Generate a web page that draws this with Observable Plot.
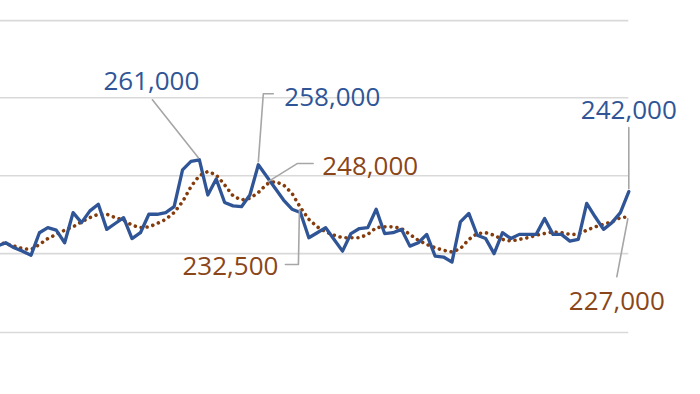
<!DOCTYPE html>
<html>
<head>
<meta charset="utf-8">
<script src="https://cdn.jsdelivr.net/npm/d3@7"></script>
<script src="https://cdn.jsdelivr.net/npm/@observablehq/plot@0.6"></script>
<style>
  html, body { margin: 0; padding: 0; background: #fff; overflow: hidden; }
</style>
</head>
<body>
<div id="chart"></div>
<script>
// Actual values (blue) and moving trend (brown), one per period
const actual = [209500, 211500, 208500, 206500, 204000, 217500, 220500, 219000, 211500, 229500,
  223500, 230500, 234500, 219500, 223000, 226500, 214000, 217500, 228500, 228500,
  229500, 233000, 255000, 260000, 261000, 240000, 249500, 235500, 233500, 233000,
  240000, 258000, 251000, 244000, 237000, 231500, 229500, 214500, 217500, 220500,
  213500, 206500, 217000, 220000, 220500, 231500, 217000, 217500, 219500, 209500,
  211500, 216500, 203500, 203000, 200000, 224000, 229000, 216000, 214000, 205000,
  217500, 214000, 216500, 216500, 216500, 226000, 216500, 216500, 212500, 213500,
  235000, 227000, 219500, 223500, 229500, 242000];
const trend = [211500, 211000, 209500, 208000, 207500, 210500, 214000, 216500, 219000, 221000,
  224000, 226500, 228500, 228500, 226500, 225000, 222000, 220500, 221000, 223000,
  225500, 229500, 236000, 245000, 251500, 254000, 252000, 246000, 239500, 237000,
  238000, 241500, 246500, 248000, 246000, 241000, 232500, 225500, 221000, 218000,
  216000, 214500, 214500, 214500, 216500, 220500, 221000, 221000, 220000, 216500,
  213000, 210500, 208500, 207000, 206000, 208000, 213500, 217000, 217500, 216000,
  213500, 212500, 213500, 214500, 216000, 217000, 218000, 217500, 216500, 216500,
  219000, 221000, 222500, 224000, 226500, 227000];
const gridValues = [158000, 205000, 251500, 298000, 344000];

// Annotation labels: which series, which period, text
const labelSeries = ["actual", "actual", "trend", "actual", "trend", "trend"];
const labelIndex = [24, 31, 33, 75, 36, 75];
const labelText = ["261,000", "258,000", "248,000", "242,000", "232,500", "227,000"];

// Layout (pixel offsets from the labelled point)
const labelOffset = [[-48, -78], [74, -67], [95, -15], [0, -81], [-70, 59], [-12, 85]];
const leaderOffsets = [
  [[-47, -60], [-1, -2]],
  [[15, -71], [5, -71], [0, -3]],
  [[38, -18], [22, -18], [-7, 0]],
  [[0, -64], [0, -3]],
  [[-15, 57], [-2, 57], [-1, 2]],
  [[-12, 60], [-1, 2]]
];

const BLUE = "#2F5597";
const BROWN = "#843C0C";
const BROWN_TEXT = "#8A4619";
const W = 700, H = 394;
const xDomain = [0, actual.length - 1];
const xRange = [-3.2, 628.3];
const yDomain = [121000, 356000];
const yRange = [H, 0];
const sx = d3.scaleLinear().domain(xDomain).range(xRange);
const sy = d3.scaleLinear().domain(yDomain).range(yRange);

const series = {actual, trend};
const colorOf = {actual: BLUE, trend: BROWN_TEXT};

const actualData = actual.map((v, i) => ({i, v}));
const trendData = trend.map((v, i) => ({i, v}));

const texts = labelText.map((t, k) => {
  const i = labelIndex[k];
  const v = series[labelSeries[k]][i];
  const [dx, dy] = labelOffset[k];
  return {
    text: t,
    color: colorOf[labelSeries[k]],
    x: sx.invert(sx(i) + dx),
    y: sy.invert(sy(v) + dy)
  };
});

const leaders = [];
labelText.forEach((t, k) => {
  const i = labelIndex[k];
  const v = series[labelSeries[k]][i];
  leaderOffsets[k].forEach(([dx, dy], n) => {
    leaders.push({id: k, n, x: sx.invert(sx(i) + dx), y: sy.invert(sy(v) + dy)});
  });
});

const plot = Plot.plot({
  width: W,
  height: H,
  margin: 0,
  x: {domain: xDomain, range: xRange, axis: null},
  y: {domain: yDomain, range: yRange, axis: null},
  style: {fontFamily: "'Open Sans', sans-serif", background: "#fff"},
  marks: [
    Plot.ruleY(gridValues, {x1: 0, x2: actual.length - 1, stroke: "#d9d9d9", strokeWidth: 1.6}),
    Plot.line(trendData, {x: "i", y: "v", stroke: BROWN, strokeWidth: 3.6,
      strokeDasharray: "0.01 6", strokeLinecap: "round", curve: "linear"}),
    Plot.line(actualData, {x: "i", y: "v", stroke: BLUE, strokeWidth: 3.3,
      strokeLinejoin: "round", strokeLinecap: "round"}),
    Plot.line(leaders, {x: "x", y: "y", z: "id", stroke: "#a6a6a6", strokeWidth: 1.6}),
    Plot.text(texts, {x: "x", y: "y", text: "text", fill: "color", fontSize: 26,
      textAnchor: "middle", lineAnchor: "middle"})
  ]
});
document.getElementById("chart").appendChild(plot);
</script>
</body>
</html>
